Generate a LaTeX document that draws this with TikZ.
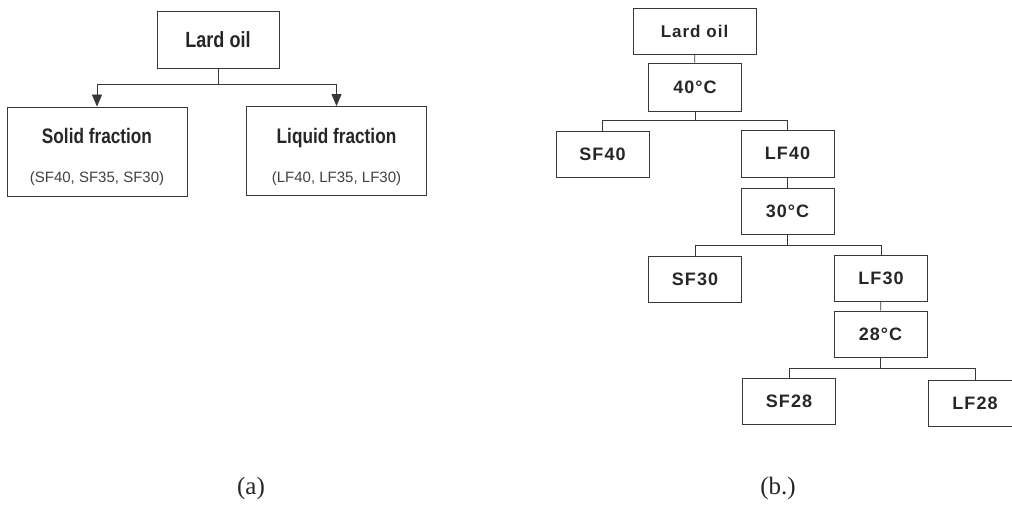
\documentclass[tikz,border=0pt]{standalone}
\usepackage{fontspec}
\setmainfont{Liberation Serif}
\newfontfamily\narrowsans[FakeStretch=0.82]{Liberation Sans}
\newfontfamily\spacedsans[LetterSpace=6]{Liberation Sans}
\newfontfamily\plainsans{Liberation Sans}
\usetikzlibrary{arrows.meta}

\tikzset{
  linecol/.style={draw=black!78,line width=0.9pt},
  topbox/.style={linecol,inner sep=0pt,minimum width=122pt,minimum height=57pt,
    text=black!85,font=\narrowsans\bfseries\fontsize{22}{24}\selectfont},
  fracbox/.style={linecol,inner sep=0pt,minimum width=180pt,minimum height=89pt},
  fractitle/.style={anchor=base,inner sep=0pt,text=black!85,
    font=\narrowsans\bfseries\fontsize{21}{24}\selectfont},
  fraclist/.style={anchor=base,inner sep=0pt,text=black!75,
    font=\plainsans\fontsize{15}{17}\selectfont},
  stagebox/.style={linecol,inner sep=0pt,minimum width=93pt,minimum height=46pt,
    text=black!85,font=\spacedsans\bfseries\fontsize{18}{20}\selectfont},
  caption/.style={font=\fontsize{25}{28}\selectfont,text=black!85}
}

\begin{document}
\begin{tikzpicture}[x=1pt,y=-1pt]
\useasboundingbox (0,0) rectangle (1012,505);

% (a)
\node[topbox] (lardA) at (218,39.5) {Lard oil};
\node[fracbox] (solid) at (97,151.5) {};
\node[fracbox] (liquid) at (336.5,151) {};
\node[fractitle] (solidT) at (97,144) {Solid fraction};
\node[fraclist] (solidL) at (97,183) {(SF40, SF35, SF30)};
\node[fractitle] (liquidT) at (336.5,144) {Liquid fraction};
\node[fraclist] (liquidL) at (336.5,183) {(LF40, LF35, LF30)};
\coordinate (splitA) at (218,84);
\draw[linecol] (lardA.south) -- (splitA);
\draw[linecol,-{Triangle[width=10pt,length=12pt]}] (splitA) -| (solid.north);
\draw[linecol,-{Triangle[width=10pt,length=12pt]}] (splitA) -| (liquid.north);
\node[caption] (capA) at (251,488) {(a)};

% (b)
\node[stagebox,minimum width=123pt,font=\spacedsans\bfseries\fontsize{17}{20}\selectfont] (lardB) at (694.5,31) {Lard oil};
\node[stagebox,minimum height=48pt] (t40) at (695,87) {40°C};
\node[stagebox] (sf40) at (602.5,154) {SF40};
\node[stagebox,minimum height=47pt] (lf40) at (787.5,153.5) {LF40};
\node[stagebox] (t30) at (787.5,211) {30°C};
\node[stagebox] (sf30) at (695,279) {SF30};
\node[stagebox] (lf30) at (881,278) {LF30};
\node[stagebox] (t28) at (880.5,334) {28°C};
\node[stagebox] (sf28) at (789,401) {SF28};
\node[stagebox] (lf28) at (975,403) {LF28};

\draw[linecol] (lardB) -- (t40);
\draw[linecol] (t40.south) -- ++(0,9) -| (sf40.north);
\draw[linecol] (t40.south) -- ++(0,9) -| (lf40.north);
\draw[linecol] (lf40) -- (t30);
\draw[linecol] (t30.south) -- ++(0,11) -| (sf30.north);
\draw[linecol] (t30.south) -- ++(0,11) -| (lf30.north);
\draw[linecol] (lf30) -- (t28);
\draw[linecol] (t28.south) -- ++(0,11) -| (sf28.north);
\draw[linecol] (t28.south) -- ++(0,11) -| (lf28.north);
\node[caption] (capB) at (778,488) {(b.)};
\end{tikzpicture}
\end{document}
